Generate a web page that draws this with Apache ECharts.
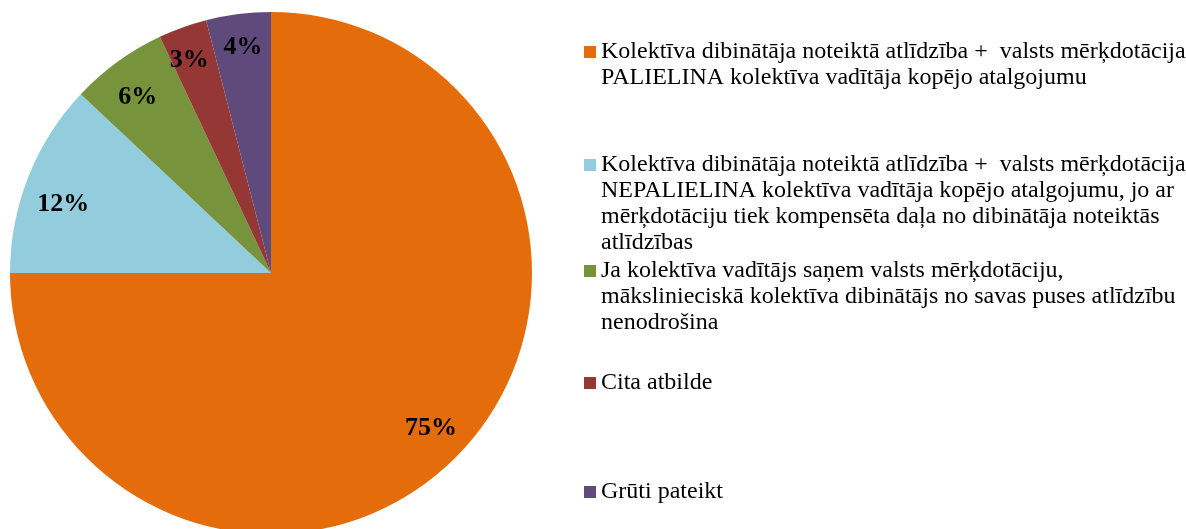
<!DOCTYPE html>
<html>
<head>
<meta charset="utf-8">
<script src="https://cdn.jsdelivr.net/npm/echarts@6/dist/echarts.min.js"></script>
<style>
  html, body { margin: 0; padding: 0; background: #fff; }
  #chart { width: 1186px; height: 529px; }
</style>
</head>
<body>
<div id="chart"></div>
<script>
// categories (legend names) and their wrapped lines as in the reference
const categories = [
  'Kolektīva dibinātāja noteiktā atlīdzība +  valsts mērķdotācija PALIELINA kolektīva vadītāja kopējo atalgojumu',
  'Kolektīva dibinātāja noteiktā atlīdzība +  valsts mērķdotācija NEPALIELINA kolektīva vadītāja kopējo atalgojumu, jo ar mērķdotāciju tiek kompensēta daļa no dibinātāja noteiktās atlīdzības',
  'Ja kolektīva vadītājs saņem valsts mērķdotāciju, mākslinieciskā kolektīva dibinātājs no savas puses atlīdzību nenodrošina',
  'Cita atbilde',
  'Grūti pateikt'
]
const legendLines = [
  ['Kolektīva dibinātāja noteiktā atlīdzība +  valsts mērķdotācija', 'PALIELINA kolektīva vadītāja kopējo atalgojumu'],
  ['Kolektīva dibinātāja noteiktā atlīdzība +  valsts mērķdotācija', 'NEPALIELINA kolektīva vadītāja kopējo atalgojumu, jo ar', 'mērķdotāciju tiek kompensēta daļa no dibinātāja noteiktās', 'atlīdzības'],
  ['Ja kolektīva vadītājs saņem valsts mērķdotāciju,', 'mākslinieciskā kolektīva dibinātājs no savas puses atlīdzību', 'nenodrošina'],
  ['Cita atbilde'],
  ['Grūti pateikt']
]
const values = [75, 12, 6, 3, 4]
const colors = ['#E46C0A', '#93CDDD', '#77933C', '#953735', '#604A7B']

const FONT = '"Liberation Serif", "Times New Roman", serif'
const LINE_H = 26
const legendFirstLineY = [47, 160, 266, 378, 487]
// small nudges so the percent labels sit where Excel put them
const labelNudge = [[2, -3], [0, 14], [-2, 5], [-6, -2], [0, -4]]

const seriesData = categories.map((name, i) => ({
  name,
  value: values[i],
  itemStyle: { color: colors[i] }
}))

// one legend per item so the spacing can follow the reference;
// blank lines above the text keep the marker on the first line
const legends = categories.map((name, i) => {
  const n = legendLines[i].length
  return {
    orient: 'vertical',
    left: 579,
    top: legendFirstLineY[i] - (n - 1) * LINE_H - LINE_H / 2,
    icon: 'rect',
    itemWidth: 12,
    itemHeight: 12,
    selectedMode: false,
    data: [name],
    formatter: () => new Array(n).join('\n') + legendLines[i].join('\n'),
    textStyle: {
      fontFamily: FONT,
      fontSize: 24,
      lineHeight: LINE_H,
      color: '#000'
    }
  }
})

const chart = echarts.init(document.getElementById('chart'))
chart.setOption({
  backgroundColor: '#fff',
  animation: false,
  legend: legends,
  series: [
    {
      type: 'pie',
      center: [271, 273],
      radius: 261,
      startAngle: 90,
      clockwise: true,
      silent: true,
      label: { show: false },
      labelLine: { show: false },
      data: seriesData
    },
    {
      // transparent ring only used to place the percent labels
      type: 'pie',
      center: [271, 273],
      radius: [180, 261],
      startAngle: 90,
      clockwise: true,
      silent: true,
      legendHoverLink: false,
      itemStyle: { color: 'transparent' },
      label: {
        show: true,
        position: 'inside',
        formatter: '{c}%',
        fontFamily: FONT,
        fontWeight: 'bold',
        fontSize: 26,
        color: '#000'
      },
      labelLine: { show: false },
      data: categories.map((name, i) => ({
        name: name + ' ',
        value: values[i],
        label: { offset: labelNudge[i] }
      }))
    }
  ]
})
window.addEventListener('resize', () => chart.resize())
</script>
</body>
</html>
